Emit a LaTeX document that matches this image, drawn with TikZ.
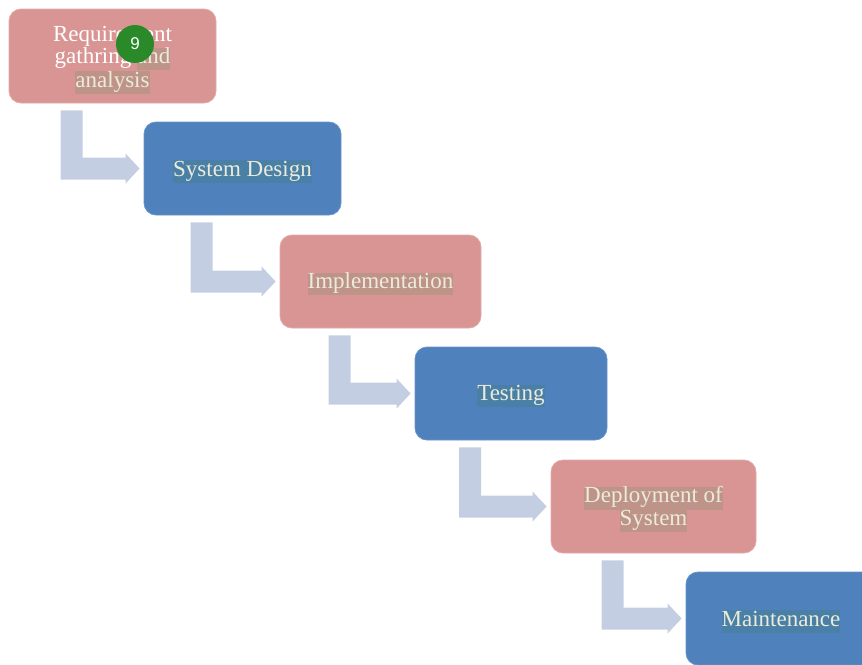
\documentclass[tikz,border=0pt]{standalone}
\usepackage{fontspec}
\setmainfont{Liberation Serif}
\newfontfamily\badgefont{Liberation Sans}
\usetikzlibrary{calc}
\definecolor{pinkbox}{HTML}{D99594}
\definecolor{bluebox}{HTML}{4F81BD}
\definecolor{hlpink}{HTML}{BF9488}
\definecolor{hlblue}{HTML}{4A80A6}
\definecolor{txtcream}{HTML}{EBEBDC}
\definecolor{flowcol}{HTML}{C3CEE3}
\definecolor{badgecol}{HTML}{2A8A2A}
\setlength{\fboxsep}{0pt}
\newcommand\hlp[1]{\colorbox{hlpink}{\strut\textcolor{txtcream}{#1}}}
\newcommand\hlb[1]{\colorbox{hlblue}{\strut\textcolor{txtcream}{#1}}}
% lower the content of a node by half of #1
\newcommand\lowered[2]{\raisebox{0pt}[\dimexpr\height+#1\relax][\depth]{#2}}
\newcommand\bentarr[2]{%
  \fill[flow] let \p1=(#1.south), \p2=(#2.west) in
  (\x1-52pt,\y1-7pt) -- (\x1-30pt,\y1-7pt) -- (\x1-30pt,\y2+11pt) --
  (\x2-18pt,\y2+11pt) -- (\x2-18pt,\y2+15pt) -- (\x2-4pt,\y2) --
  (\x2-18pt,\y2-15pt) -- (\x2-18pt,\y2-11pt) -- (\x1-52pt,\y2-11pt) -- cycle;}
\begin{document}
\begin{tikzpicture}[x=1pt,y=-1pt,
  stage/.style={rectangle, rounded corners=12pt, inner sep=0pt, align=center,
    font=\fontsize{23}{22.5}\selectfont, text=txtcream},
  stagepink/.style={stage, fill=pinkbox, draw=pinkbox!80!white, line width=0.8pt},
  stageblue/.style={stage, fill=bluebox, draw=bluebox!85!white, line width=0.8pt},
  flow/.style={fill=flowcol},
  badge/.style={circle, fill=badgecol, minimum size=38pt, inner sep=0pt, text=white,
    font=\badgefont\fontsize{17}{18}\selectfont}]
\clip (0,0) rectangle (862,664);
\node[stagepink, minimum width=207pt, minimum height=94pt, text=white] (b1) at (112.5,56)
  {\lowered{8pt}{\parbox{200pt}{\centering Requirement\\gathring \hlp{and}\\\hlp{analysis}}}};
\node[stageblue, minimum width=197pt, minimum height=93pt] (b2) at (242.5,168.5)
  {\lowered{6pt}{\hlb{System Design}}};
\node[stagepink, minimum width=201pt, minimum height=93pt] (b3) at (380.5,281.5)
  {\lowered{5pt}{\hlp{Implementation}}};
\node[stageblue, minimum width=192pt, minimum height=93pt] (b4) at (511,393.5)
  {\lowered{5pt}{\hlb{Testing}}};
\node[stagepink, minimum width=205pt, minimum height=93pt] (b5) at (653.5,506.5)
  {\lowered{6pt}{\parbox{200pt}{\centering\hlp{Deployment of}\\\hlp{System}}}};
\node[stageblue, minimum width=190pt, minimum height=93pt] (b6) at (781,618.5)
  {\lowered{6pt}{\hlb{Maintenance}}};
\bentarr{b1}{b2}
\bentarr{b2}{b3}
\bentarr{b3}{b4}
\bentarr{b4}{b5}
\bentarr{b5}{b6}
\node[badge] (n9) at (135,44) {9};
\end{tikzpicture}
\end{document}
